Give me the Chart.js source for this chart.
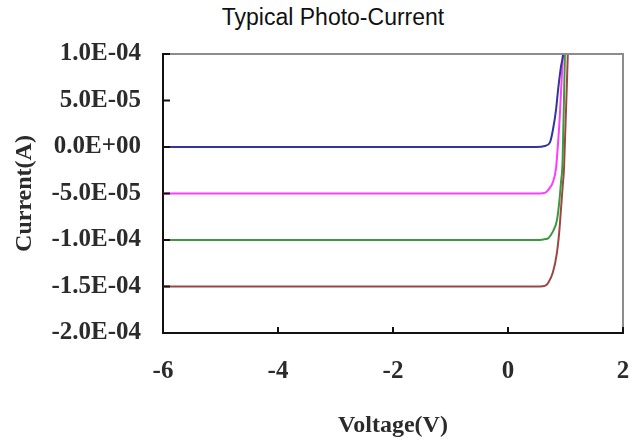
<!DOCTYPE html>
<html>
<head>
<meta charset="utf-8">
<script src="https://cdn.jsdelivr.net/npm/chart.js@4/dist/chart.umd.min.js"></script>
<style>
    body { margin: 0; background: #fff; }
    #wrap { position: relative; width: 633px; height: 440px; }
    #title {
        position: absolute; top: 6px; left: 333px; transform: translateX(-50%);
        font: 23px "Liberation Sans", Arial, sans-serif; line-height: 23px;
        color: #111; white-space: nowrap;
    }
    canvas { position: absolute; left: 0; top: 0; }
</style>
</head>
<body>
<div id="wrap">
    <div id="title">Typical Photo-Current</div>
    <canvas id="ivChart" width="633" height="440"></canvas>
</div>
<script>
// ===== DATA =====
const xTicks = [-6, -4, -2, 0, 2];
const yTicks = [1e-4, 5e-5, 0, -5e-5, -1e-4, -1.5e-4, -2e-4];

const voltBlue  = [-6, 0.5, 0.64, 0.73, 0.78, 0.835, 0.87, 0.92, 0.96, 0.98];
const currBlue  = [0, 0, 1e-6, 5e-6, 1.8e-5, 4.0e-5, 6.1e-5, 8.6e-5, 1.0e-4, 1.15e-4];

const voltPink  = [-6, 0.55, 0.65, 0.70, 0.78, 0.835, 0.87, 0.90, 0.955, 0.97];
const currPink  = [-5e-5, -5e-5, -4.9e-5, -4.6e-5, -3.8e-5, -2.3e-5, 4e-6, 3.2e-5, 1.0e-4, 1.15e-4];

const voltGreen = [-6, 0.55, 0.65, 0.70, 0.78, 0.85, 0.89, 0.92, 0.95, 0.99, 1.0];
const currGreen = [-1e-4, -1e-4, -9.9e-5, -9.8e-5, -9.1e-5, -7.9e-5, -6.0e-5, -3.9e-5, -1.4e-5, 1.0e-4, 1.15e-4];

const voltBrown = [-6, 0.55, 0.65, 0.70, 0.78, 0.85, 0.89, 0.92, 0.95, 0.975, 1.04, 1.05];
const currBrown = [-1.5e-4, -1.5e-4, -1.49e-4, -1.46e-4, -1.35e-4, -1.14e-4, -9.2e-5, -6.8e-5, -4.3e-5, -2.2e-5, 1.0e-4, 1.2e-4];

const seriesColors = ["#34349c", "#ff3cff", "#3c9a3c", "#9c4646"];

//
// ================= HELPERS =================
//
function toPoints(xs, ys) {
    return xs.map((x, i) => ({ x: x, y: ys[i] }));
}

function sciLabel(v) {
    if (Math.abs(v) < 1e-12) return "0.0E+00";
    const parts = v.toExponential(1).toUpperCase().split("E");
    const sign = parts[1][0];
    let exp = parts[1].slice(1);
    if (exp.length < 2) exp = "0" + exp;
    return parts[0] + "E" + sign + exp;
}

// inward tick marks + grey top/right frame
const frameTicks = {
    id: "frameTicks",
    afterDatasetsDraw(chart) {
        const { ctx, chartArea, scales } = chart;
        ctx.save();
        ctx.strokeStyle = "#8c8c8c";
        ctx.lineWidth = 2;
        ctx.beginPath();
        ctx.moveTo(chartArea.left, chartArea.top);
        ctx.lineTo(chartArea.right, chartArea.top);
        ctx.lineTo(chartArea.right, chartArea.bottom);
        ctx.stroke();

        ctx.strokeStyle = "#111";
        ctx.lineWidth = 2;
        ctx.beginPath();
        xTicks.forEach(v => {
            const px = scales.x.getPixelForValue(v);
            ctx.moveTo(px, chartArea.bottom);
            ctx.lineTo(px, chartArea.bottom - 6);
        });
        yTicks.forEach(v => {
            const py = scales.y.getPixelForValue(v);
            ctx.moveTo(chartArea.left, py);
            ctx.lineTo(chartArea.left + 7, py);
        });
        ctx.stroke();
        ctx.restore();
    }
};

//
// ================= CHART =================
//
const serif = "'Liberation Serif', 'Times New Roman', serif";
const tickFont = { family: serif, size: 25, weight: "bold" };
const titleFont = { family: serif, size: 24, weight: "bold" };
const textColor = "#2b2b2b";

const datasets = [
    toPoints(voltBlue, currBlue),
    toPoints(voltPink, currPink),
    toPoints(voltGreen, currGreen),
    toPoints(voltBrown, currBrown)
].map((pts, i) => ({
    data: pts,
    borderColor: seriesColors[i],
    borderWidth: 2,
    pointRadius: 0,
    fill: false,
    cubicInterpolationMode: "monotone"
}));

new Chart(document.getElementById("ivChart"), {
    type: "line",
    data: { datasets: datasets },
    plugins: [frameTicks],
    options: {
        responsive: false,
        animation: false,
        layout: { padding: { top: 54, right: 10, left: 0, bottom: 0 } },
        plugins: { legend: { display: false }, tooltip: { enabled: false } },
        scales: {
            x: {
                type: "linear",
                min: -6, max: 2,
                afterBuildTicks: s => { s.ticks = xTicks.map(v => ({ value: v })); },
                afterFit: s => { s.height = 107; s.paddingLeft = 0; s.paddingRight = 0; },
                grid: { display: false, drawTicks: false },
                border: { display: true, color: "#111", width: 2 },
                ticks: { color: textColor, font: tickFont, padding: 24, maxRotation: 0 },
                title: { display: true, text: "Voltage(V)", color: textColor, font: titleFont,
                         padding: { top: 0, bottom: 0 } }
            },
            y: {
                type: "linear",
                min: -2e-4, max: 1e-4,
                afterBuildTicks: s => { s.ticks = yTicks.map(v => ({ value: v })); },
                afterFit: s => { s.width = 163; s.paddingTop = 0; s.paddingBottom = 0; },
                grid: { display: false, drawTicks: false },
                border: { display: true, color: "#111", width: 2 },
                ticks: { color: textColor, font: tickFont, padding: 22, callback: v => sciLabel(v) },
                title: { display: true, text: "Current(A)", color: textColor, font: titleFont,
                         padding: { top: 10, bottom: 0 } }
            }
        }
    }
});
</script>
</body>
</html>
